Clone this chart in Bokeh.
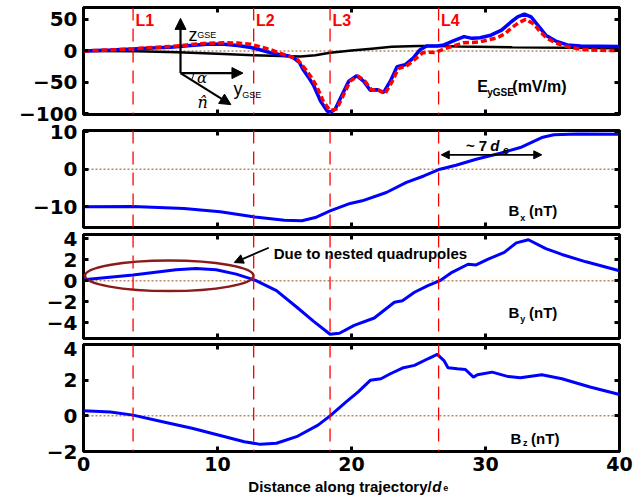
from bokeh.plotting import figure
from bokeh.layouts import column
from bokeh.models import Range1d, LinearAxis, FixedTicker, Span, Label, Arrow, NormalHead
from bokeh.embed import file_html
from bokeh.resources import INLINE

# ---------------- data ----------------
x_ticks = [0, 10, 20, 30, 40]
L_pos = [3.7, 12.7, 18.4, 26.5]
L_names = ["L1", "L2", "L3", "L4"]

# Panel 1: E_yGSE (mV/m)
E_blue_x = [0, 2, 3.7, 5.5, 6.5, 8, 9.5, 10.5, 11.5, 12.5, 13.3, 14.0, 14.7, 15.3, 15.7, 16.1, 16.4, 16.8,
            17.2, 17.7, 18.2, 18.5, 18.8, 19.3, 19.8, 20.4, 20.9, 21.4, 21.9, 22.4, 22.9, 23.4, 24.0, 24.6,
            25.1, 25.6, 26.4, 26.9, 27.6, 28.4, 29.0, 29.6, 30.4, 31.2, 31.9, 32.4, 32.9, 33.4, 33.9, 34.5,
            35.2, 36.1, 37.1, 38.5, 40]
E_blue = [0, 1.5, 3, 5, 6, 8.5, 11, 10.5, 8.5, 5.4, 1, -3, -6, -8, -11.5, -18, -30, -42,
          -56, -80, -96, -97, -92, -69.5, -48, -39.5, -48, -62.5, -61.5, -66, -48, -25, -22, -11.5,
          1.6, 8, 8, 9.5, 16, 22.7, 20, 21, 25, 33, 46, 54, 58.5, 54, 41, 25,
          16, 9.5, 8, 7.5, 7]
E_red_x = [0, 2, 3.7, 5.5, 6.5, 8, 9.0, 10.5, 11.5, 12.5, 13.3, 14.0, 15.0, 15.9, 16.6, 17.0, 17.4, 17.9,
           18.4, 18.9, 19.4, 19.9, 20.5, 21.0, 21.5, 22.0, 22.5, 23.0, 23.5, 24.1, 24.7, 25.3, 25.8, 26.3,
           26.9, 27.6, 28.4, 29.0, 29.6, 30.3, 30.9, 31.5, 31.9, 32.5, 33.0, 33.6, 34.1, 34.6, 35.2, 35.9,
           37.1, 38.5, 40]
E_red = [0, 1.5, 3.5, 6, 7, 10, 12, 13, 12.5, 10.6, 6, 1.6, -6, -12, -30, -42, -56, -80,
         -95, -92, -70, -48, -40, -48, -62, -62, -68, -50, -28, -24, -14, -3, -2, -2.5,
         3.3, 8, 13, 13.5, 14.5, 18, 21, 28, 36, 45, 50, 43, 30, 20, 13, 8,
         2.5, 1, 0.5]
E_black_x = [0, 4, 7, 10, 12.7, 14.7, 16.2, 17.3, 18.4, 20, 21.5, 23, 25, 26.5, 28, 32, 36, 40]
E_black = [0, -0.5, -2, -4.5, -7, -8, -9, -7, -3, 0.5, 3.5, 6.5, 8, 8, 7, 5.8, 5, 4.3]

# Panel 2: Bx (nT)
Bx_x = [0, 3.7, 7.5, 10.2, 12.8, 15.0, 16.3, 17.3, 18.4, 19.9, 20.8, 22.6, 24.1, 25.4, 26.6, 27.8,
        29.3, 31.1, 32.6, 34.2, 35.1, 36.9, 40]
Bx = [-10.0, -9.9, -10.45, -11.3, -12.7, -13.55, -13.7, -12.85, -11.1, -9.1, -8.4, -6.2, -3.5, -1.8,
      0, 1.06, 2.66, 4.26, 5.77, 8.43, 9.15, 9.4, 9.3]

# Panel 3: By (nT)
By_x = [0, 3.7, 6.9, 8.4, 9.9, 11.4, 12.8, 14.4, 15.9, 17.2, 18.4, 19.1, 20.2, 21.7, 23.2, 23.8, 24.7,
        25.7, 26.6, 27.5, 28.7, 29.3, 30.2, 31.4, 32.3, 33.2, 34.5, 35.7, 37.5, 40]
By = [0.1, 0.54, 1.04, 1.17, 1.04, 0.63, 0.06, -0.94, -2.5, -3.9, -5.1, -5.0, -4.25, -3.55, -2.05, -1.9,
      -1.1, -0.47, 0, 0.8, 1.57, 1.5, 2.05, 2.7, 3.6, 3.9, 3.05, 2.5, 1.8, 0.95]

# Panel 4: Bz (nT)
Bz_x = [0, 2.0, 3.7, 5.9, 8.1, 10.2, 12.0, 13.2, 14.4, 15.9, 17.5, 18.4, 19.6, 20.5, 21.4, 22.2, 22.9,
        23.8, 24.7, 25.7, 26.4, 26.9, 27.2, 27.9, 28.5, 29.1, 29.4, 30.5, 31.7, 32.6, 34.2, 35.7, 37.8, 40]
Bz = [0.28, 0.22, 0.04, -0.33, -0.7, -1.1, -1.45, -1.6, -1.54, -1.17, -0.52, 0, 0.78, 1.34, 1.99, 2.08,
      2.36, 2.68, 2.83, 3.2, 3.44, 3.1, 2.7, 2.64, 2.6, 2.17, 2.3, 2.45, 2.2, 2.13, 2.3, 2.08, 1.62, 1.2]

E_ticks = [-100, -50, 0, 50]
Bx_ticks = [-10, 0, 10]
By_ticks = [-4, -2, 0, 2, 4]
Bz_ticks = [-2, 0, 2, 4]

# ---------------- style ----------------
BLUE = "#0000ff"
RED = "#ff0000"
ZERO = "#b8875e"
TICK_FONT = "DejaVu Sans"
TXT_FONT = "Liberation Sans"
FRAME_W = 536
BL, BR = 83, 16


def make_panel(ylim, yticks, frame_h, btop, bbot, xlabels=False):
    p = figure(frame_width=FRAME_W, frame_height=frame_h,
               x_range=Range1d(0, 40), y_range=Range1d(*ylim),
               output_backend="svg", toolbar_location=None,
               min_border_left=BL, min_border_right=BR,
               min_border_top=btop, min_border_bottom=bbot)
    p.grid.visible = False
    p.outline_line_color = "black"
    p.outline_line_width = 3
    p.outline_line_alpha = 1
    p.background_fill_color = "white"
    p.border_fill_color = "white"

    def style(ax, labels):
        ax.axis_line_color = None
        ax.major_tick_in = 5
        ax.major_tick_out = 0
        ax.major_tick_line_width = 3
        ax.major_tick_line_color = "black"
        ax.minor_tick_line_color = None
        if labels:
            ax.major_label_text_font = TICK_FONT
            ax.major_label_text_font_style = "bold"
            ax.major_label_text_font_size = "20px"
            ax.major_label_text_color = "black"
            ax.major_label_standoff = 6
        else:
            ax.major_label_text_font_size = "0px"
            ax.major_label_standoff = 0

    xa = p.xaxis[0]
    xa.ticker = FixedTicker(ticks=x_ticks)
    style(xa, xlabels)
    if xlabels:
        xa.major_label_standoff = 5
        xa.major_label_text_font_size = "19px"
    ya = p.yaxis[0]
    ya.ticker = FixedTicker(ticks=yticks)
    style(ya, True)

    top = LinearAxis(ticker=FixedTicker(ticks=x_ticks))
    style(top, False)
    p.add_layout(top, "above")
    right = LinearAxis(ticker=FixedTicker(ticks=yticks))
    style(right, False)
    p.add_layout(right, "right")

    p.add_layout(Span(location=0, dimension="width", line_color=ZERO,
                      line_dash="2 2", line_width=1.5, level="underlay"))
    for lx in L_pos:
        p.add_layout(Span(location=lx, dimension="height", line_color=RED,
                          line_dash="13 8", line_width=1.3))
    return p


def lab(p, x, y, text, size=15, style="bold", color="black", font=TXT_FONT,
        align="left", baseline="alphabetic"):
    p.add_layout(Label(x=x, y=y, text=text, text_font=font, text_font_size=f"{size}px",
                       text_font_style=style, text_color=color, text_align=align,
                       text_baseline=baseline))


# ---------------- panel 1 ----------------
p1 = make_panel((-101, 69), E_ticks, 107, 7, 8)
p1.line(E_black_x, E_black, line_color="black", line_width=2.5)
p1.line(E_blue_x, E_blue, line_color=BLUE, line_width=3.5)
p1.line(E_red_x, E_red, line_color=RED, line_width=3.5, line_dash="6 3")
for lx, nm in zip(L_pos, L_names):
    lab(p1, lx + 0.18, 49, nm, size=16, color=RED, baseline="middle")

ox, oy = 7.24, -35.2
for xe, ye in [(ox, 51.7), (11.9, oy), (11.0, -85.3)]:
    p1.add_layout(Arrow(end=NormalHead(size=11, fill_color="black", line_color="black"),
                        x_start=ox, y_start=oy, x_end=xe, y_end=ye,
                        line_color="black", line_width=2.2))
p1.arc(x=[ox], y=[oy], radius=13, radius_units="screen", start_angle=-0.57, end_angle=0,
       line_color="black", line_width=1)
lab(p1, 7.84, 25.2, "z", size=18, style="normal")
lab(p1, 8.49, 25.2, "GSE", size=9, style="normal")
lab(p1, 11.2, -60.5, "y", size=18, style="normal")
lab(p1, 11.85, -70.5, "GSE", size=9, style="normal")
lab(p1, 8.85, -43, "\u03b1", size=15, style="italic", font="DejaVu Serif",
    align="center", baseline="middle")
lab(p1, 8.9, -82, "n\u0302", size=16, style="italic", font="DejaVu Serif",
    align="center", baseline="middle")
lab(p1, 29.38, -56.2, "E", size=16)
lab(p1, 30.13, -66.8, "yGSE", size=10)
lab(p1, 32.0, -56.2, "(mV/m)", size=16)

# ---------------- panel 2 ----------------
p2 = make_panel((-15.5, 10.3), Bx_ticks, 97, 8, 4)
p2.line(Bx_x, Bx, line_color=BLUE, line_width=3)
p2.add_layout(Arrow(start=NormalHead(size=8, fill_color="black", line_color="black"),
                    end=NormalHead(size=8, fill_color="black", line_color="black"),
                    x_start=26.7, y_start=3.83, x_end=34.2, y_end=3.83,
                    line_color="black", line_width=1.8))
lab(p2, 28.54, 6.2, "~ 7", size=15)
lab(p2, 30.36, 6.2, "d", size=15, style="bold italic")
lab(p2, 31.3, 5.0, "e", size=11)
lab(p2, 31.72, -11.06, "B", size=15)
lab(p2, 32.6, -12.85, "x", size=9)
lab(p2, 33.25, -11.06, "(nT)", size=15)

# ---------------- panel 3 ----------------
p3 = make_panel((-5.5, 4.4), By_ticks, 104, 3, 3)
p3.line(By_x, By, line_color=BLUE, line_width=3)
p3.ellipse(x=[6.4], y=[0.47], width=[12.58], height=[2.92], fill_color=None,
           line_color="#8b1a1a", line_width=2.5)
p3.add_layout(Arrow(end=NormalHead(size=9, fill_color="black", line_color="black"),
                    x_start=13.83, y_start=3.14, x_end=11.25, y_end=1.73,
                    line_color="black", line_width=1.8))
lab(p3, 14.2, 2.6, "Due to nested quadrupoles", size=15)
lab(p3, 31.72, -2.99, "B", size=15)
lab(p3, 32.6, -3.6, "y", size=9)
lab(p3, 33.25, -2.99, "(nT)", size=15)

# ---------------- panel 4 ----------------
p4 = make_panel((-2, 4), Bz_ticks, 107, 3, 26, xlabels=True)
p4.line(Bz_x, Bz, line_color=BLUE, line_width=3)
lab(p4, 31.87, -1.27, "B", size=15)
lab(p4, 32.8, -1.55, "z", size=9)
lab(p4, 33.4, -1.27, "(nT)", size=15)

# ---------------- x-axis title strip (shares the x scale) ----------------
p5 = figure(frame_width=FRAME_W, frame_height=20, x_range=p4.x_range, y_range=Range1d(0, 20),
            output_backend="svg", toolbar_location=None,
            min_border_left=BL, min_border_right=BR, min_border_top=0, min_border_bottom=0,
            x_axis_location=None, y_axis_location=None)
p5.grid.visible = False
p5.outline_line_color = None
lab(p5, 12.3, 20, "Distance along trajectory/", size=15, baseline="top")
lab(p5, 26.02, 20, "d", size=15, style="bold italic", baseline="top")
lab(p5, 26.85, 12.5, "e", size=9, baseline="top")

layout = column(p1, p2, p3, p4, p5, spacing=0)
open("out.html", "w").write(file_html(layout, INLINE))
